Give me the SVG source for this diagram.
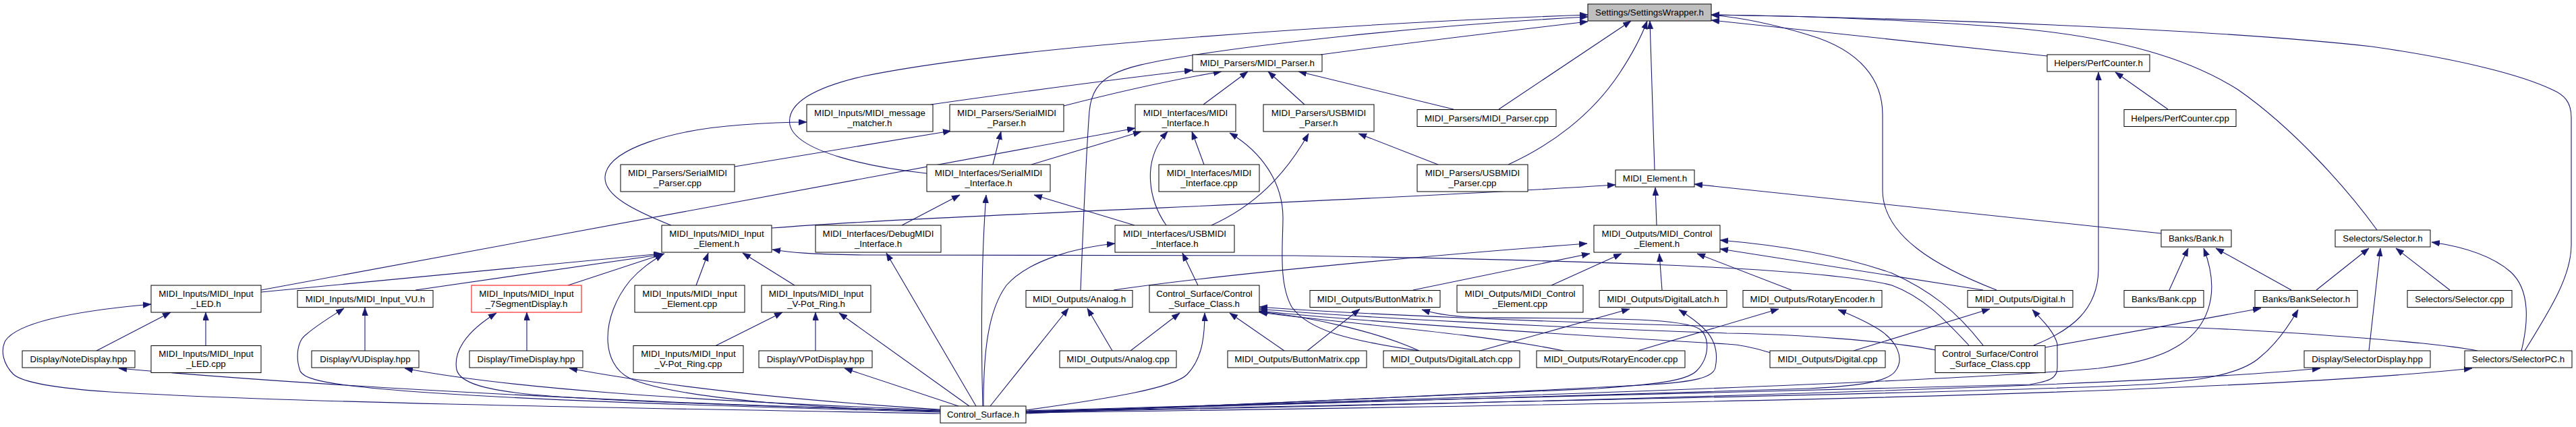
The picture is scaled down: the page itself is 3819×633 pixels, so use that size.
<svg xmlns="http://www.w3.org/2000/svg" width="3819" height="633" viewBox="0 0 3819 633">
<style>
.n rect{fill:#fff;stroke:#000;stroke-width:1}
.n text{font-family:"Liberation Sans",Arial,Helvetica,sans-serif;font-size:13.3px;text-anchor:middle;fill:#000}
.e path{fill:none;stroke:#191970;stroke-width:1.1;marker-end:url(#a)}
</style>
<defs>
<marker id="a" markerUnits="userSpaceOnUse" markerWidth="14" markerHeight="10" refX="12" refY="4.5" orient="auto">
<path d="M0,0 L12,4.5 L0,9 z" fill="#191970" stroke="#191970" stroke-width="0.5"/>
</marker>
</defs>
<rect width="3819" height="633" fill="#fff"/>
<g class="e" id="edges">
<path d="M1958,81 C2100,62 2250,44 2354,32"/>
<path d="M1374,257 C1290,248 1180,225 1171,185 C1165,150 1215,128 1280,113 C1500,68 2000,35 2354,22"/>
<path d="M1602,430 C1606,330 1610,230 1615,165 C1620,110 1660,100 1749,85 C1850,68 2100,38 2354,25"/>
<path d="M2222,162 L2418,31"/>
<path d="M2236,244 C2300,215 2360,170 2400,110 C2420,80 2435,50 2442,31"/>
<path d="M2453,252 L2446,31"/>
<path d="M3035,83 L2537,30"/>
<path d="M2960,430 C2870,395 2792,350 2791,283 L2791,170 C2791,120 2760,75 2682,52 C2630,36 2580,26 2537,22"/>
<path d="M3524,341 C3480,280 3400,190 3318,133 C3250,90 3150,55 2968,40 C2800,28 2650,23 2537,22"/>
<path d="M3743,520 C3780,460 3812,410 3812,363 L3812,174 C3812,150 3800,140 3784,133 C3740,112 3650,88 3516,69 C3300,45 2900,28 2537,22"/>
<path d="M1380,155 C1500,138 1650,118 1768,104"/>
<path d="M1577,157 C1650,138 1740,118 1811,106"/>
<path d="M1784,155 L1850,106"/>
<path d="M1934,155 L1880,106"/>
<path d="M2155,162 L1925,106"/>
<path d="M995,334 C940,312 895,290 897,262 C900,220 1000,192 1100,185 C1140,182 1170,181 1196,181"/>
<path d="M1089,247 L1410,194"/>
<path d="M1472,244 L1484,195"/>
<path d="M387,430 L1683,190"/>
<path d="M1529,244 L1692,195"/>
<path d="M1729,334 C1705,300 1690,240 1731,195"/>
<path d="M1785,244 L1767,195"/>
<path d="M2104,520 C2000,505 1940,490 1915,455 C1895,420 1902,360 1902,323 C1902,270 1870,225 1823,197"/>
<path d="M1337,334 L1423,289"/>
<path d="M1457,602 C1454,500 1455,380 1462,289"/>
<path d="M1682,334 L1533,289"/>
<path d="M1796,334 C1860,305 1905,260 1940,198"/>
<path d="M2132,244 L2014,198"/>
<path d="M1144,338 C1400,318 2000,300 2395,274"/>
<path d="M2456,334 L2454,278"/>
<path d="M3204,346 L2512,273"/>
<path d="M387,433 L981,376"/>
<path d="M616,430 L983,377"/>
<path d="M842,423 L985,376"/>
<path d="M1032,423 L1050,375"/>
<path d="M1178,423 L1101,375"/>
<path d="M1394,610 C1200,605 1000,590 934,561 C890,540 890,470 934,416 C950,398 965,388 983,377"/>
<path d="M2919,512 C2880,470 2850,440 2805,423 C2700,395 2300,385 1920,379 L1280,378 C1200,377 1170,374 1145,370"/>
<path d="M3015,512 C3070,490 3110,460 3111,400 L3111,107"/>
<path d="M3214,162 L3136,107"/>
<path d="M1651,430 C1800,408 2100,380 2353,361"/>
<path d="M2095,430 L2357,376"/>
<path d="M2300,423 L2404,376"/>
<path d="M2464,430 L2460,376"/>
<path d="M2656,430 L2516,376"/>
<path d="M2940,430 L2550,369"/>
<path d="M2940,512 C2900,460 2860,430 2805,405 C2720,375 2620,362 2550,356"/>
<path d="M1447,602 L1314,375"/>
<path d="M1458,602 C1458,520 1465,460 1492,423 C1525,385 1600,366 1653,361"/>
<path d="M1776,423 L1753,375"/>
<path d="M1468,602 L1584,457"/>
<path d="M1649,520 L1612,457"/>
<path d="M1676,520 L1749,464"/>
<path d="M1521,608 C1650,590 1740,575 1760,555 C1782,532 1786,500 1786,464"/>
<path d="M1904,520 L1823,464"/>
<path d="M3673,520 C3600,505 3300,485 3179,484 L2560,484 C2300,478 2000,465 1867,455"/>
<path d="M2870,519 C2800,505 2650,495 2560,494 C2300,485 2000,470 1867,458"/>
<path d="M2625,523 C2600,515 2580,511 2560,510 C2300,495 2000,475 1867,461"/>
<path d="M2104,520 C2050,495 1950,470 1867,462"/>
<path d="M2318,520 C2200,495 1980,478 1867,463"/>
<path d="M1938,520 L2016,458"/>
<path d="M1521,613 C1800,600 2200,585 2369,576 C2450,570 2500,565 2515,550 C2535,530 2535,500 2520,488 C2495,472 2400,472 2200,471 C2160,470 2130,466 2108,459"/>
<path d="M2194,520 L2416,458"/>
<path d="M1521,612 C1900,598 2300,578 2450,570 C2510,566 2540,560 2543,545 C2548,520 2540,500 2525,486 C2515,476 2500,466 2489,459"/>
<path d="M2428,520 L2637,458"/>
<path d="M1521,611 C2000,595 2500,580 2682,576 C2760,572 2800,565 2810,550 C2825,530 2810,505 2788,490 C2765,475 2740,465 2725,459"/>
<path d="M2748,520 L2950,458"/>
<path d="M1521,610 C2000,596 2700,575 3009,570 C3040,565 3050,560 3050,545 L3050,510 C3045,490 3025,472 3013,459"/>
<path d="M3216,430 L3244,368"/>
<path d="M1521,609 C2200,590 2900,565 3111,546 C3160,540 3200,530 3225,515 C3270,490 3295,440 3267,368"/>
<path d="M3397,430 L3285,368"/>
<path d="M3434,430 L3512,368"/>
<path d="M3512,520 L3529,368"/>
<path d="M3632,430 L3552,368"/>
<path d="M3738,520 C3748,480 3752,430 3722,403 C3690,375 3640,364 3605,359"/>
<path d="M3032,515 C3100,503 3250,476 3352,457"/>
<path d="M1521,610 C2300,595 3000,580 3179,570 C3260,565 3322,555 3350,530 C3375,510 3395,480 3407,459"/>
<path d="M1521,611 C2400,595 3200,570 3440,546"/>
<path d="M1521,612 C2400,600 3300,585 3665,546"/>
<path d="M143,520 L253,463"/>
<path d="M305,513 L305,463"/>
<path d="M1394,613 C1000,606 450,598 163,581 C90,576 35,568 20,555 C5,540 0,520 8,505 C25,480 100,462 224,451"/>
<path d="M541,520 L541,456"/>
<path d="M1394,611 C1100,603 700,592 530,573 C470,566 450,560 445,550 C438,530 440,505 455,495 C470,482 490,470 510,457"/>
<path d="M1394,609 C1000,600 500,575 176,546"/>
<path d="M1394,608 C1000,593 750,575 600,546"/>
<path d="M781,520 L781,463"/>
<path d="M1394,609 C1150,603 900,595 790,585 C720,578 682,568 677,548 C672,522 690,492 736,464"/>
<path d="M1394,607 C1200,595 1000,575 844,546"/>
<path d="M1060,513 L1160,463"/>
<path d="M1209,520 L1209,463"/>
<path d="M1437,602 L1244,464"/>
<path d="M1421,602 L1252,546"/>
</g>
<g class="n" id="n0"><rect x="2354" y="6" width="183" height="25" style="fill:#bfbfbf"/><text x="2445.5" y="23">Settings/SettingsWrapper.h</text></g>
<g class="n" id="n1"><rect x="1768" y="81" width="192" height="25"/><text x="1864" y="98">MIDI_Parsers/MIDI_Parser.h</text></g>
<g class="n" id="n2"><rect x="3035" y="81" width="152" height="25"/><text x="3111" y="98">Helpers/PerfCounter.h</text></g>
<g class="n" id="n3"><rect x="1196" y="155" width="187" height="40"/><text x="1289.5" y="171.5">MIDI_Inputs/MIDI_message</text><text x="1289.5" y="186.5">_matcher.h</text></g>
<g class="n" id="n4"><rect x="1408" y="155" width="169" height="40"/><text x="1492.5" y="171.5">MIDI_Parsers/SerialMIDI</text><text x="1492.5" y="186.5">_Parser.h</text></g>
<g class="n" id="n5"><rect x="1683" y="155" width="149" height="40"/><text x="1757.5" y="171.5">MIDI_Interfaces/MIDI</text><text x="1757.5" y="186.5">_Interface.h</text></g>
<g class="n" id="n6"><rect x="1873" y="155" width="164" height="40"/><text x="1955" y="171.5">MIDI_Parsers/USBMIDI</text><text x="1955" y="186.5">_Parser.h</text></g>
<g class="n" id="n7"><rect x="2101" y="162.5" width="206" height="25"/><text x="2204" y="179.5">MIDI_Parsers/MIDI_Parser.cpp</text></g>
<g class="n" id="n8"><rect x="3149" y="162.5" width="166" height="25"/><text x="3232" y="179.5">Helpers/PerfCounter.cpp</text></g>
<g class="n" id="n9"><rect x="920" y="244" width="169" height="40"/><text x="1004.5" y="260.5">MIDI_Parsers/SerialMIDI</text><text x="1004.5" y="275.5">_Parser.cpp</text></g>
<g class="n" id="n10"><rect x="1374" y="244" width="183" height="40"/><text x="1465.5" y="260.5">MIDI_Interfaces/SerialMIDI</text><text x="1465.5" y="275.5">_Interface.h</text></g>
<g class="n" id="n11"><rect x="1718" y="244" width="149" height="40"/><text x="1792.5" y="260.5">MIDI_Interfaces/MIDI</text><text x="1792.5" y="275.5">_Interface.cpp</text></g>
<g class="n" id="n12"><rect x="2101" y="244" width="164" height="40"/><text x="2183" y="260.5">MIDI_Parsers/USBMIDI</text><text x="2183" y="275.5">_Parser.cpp</text></g>
<g class="n" id="n13"><rect x="2395" y="252" width="117" height="25"/><text x="2453.5" y="269">MIDI_Element.h</text></g>
<g class="n" id="n14"><rect x="981" y="334" width="163" height="40"/><text x="1062.5" y="350.5">MIDI_Inputs/MIDI_Input</text><text x="1062.5" y="365.5">_Element.h</text></g>
<g class="n" id="n15"><rect x="1209" y="334" width="186" height="40"/><text x="1302" y="350.5">MIDI_Interfaces/DebugMIDI</text><text x="1302" y="365.5">_Interface.h</text></g>
<g class="n" id="n16"><rect x="1653" y="334" width="177" height="40"/><text x="1741.5" y="350.5">MIDI_Interfaces/USBMIDI</text><text x="1741.5" y="365.5">_Interface.h</text></g>
<g class="n" id="n17"><rect x="2363" y="334" width="187" height="40"/><text x="2456.5" y="350.5">MIDI_Outputs/MIDI_Control</text><text x="2456.5" y="365.5">_Element.h</text></g>
<g class="n" id="n18"><rect x="3204" y="341" width="104" height="25"/><text x="3256" y="358">Banks/Bank.h</text></g>
<g class="n" id="n19"><rect x="3462" y="341" width="141" height="25"/><text x="3532.5" y="358">Selectors/Selector.h</text></g>
<g class="n" id="n20"><rect x="224" y="423" width="163" height="40"/><text x="305.5" y="439.5">MIDI_Inputs/MIDI_Input</text><text x="305.5" y="454.5">_LED.h</text></g>
<g class="n" id="n21"><rect x="441" y="430.5" width="201" height="25"/><text x="541.5" y="447.5">MIDI_Inputs/MIDI_Input_VU.h</text></g>
<g class="n" id="n22"><rect x="699" y="423" width="163" height="40" style="stroke:#ff0000"/><text x="780.5" y="439.5">MIDI_Inputs/MIDI_Input</text><text x="780.5" y="454.5">_7SegmentDisplay.h</text></g>
<g class="n" id="n23"><rect x="941" y="423" width="163" height="40"/><text x="1022.5" y="439.5">MIDI_Inputs/MIDI_Input</text><text x="1022.5" y="454.5">_Element.cpp</text></g>
<g class="n" id="n24"><rect x="1129" y="423" width="162" height="40"/><text x="1210" y="439.5">MIDI_Inputs/MIDI_Input</text><text x="1210" y="454.5">_V-Pot_Ring.h</text></g>
<g class="n" id="n25"><rect x="1521" y="430.5" width="158" height="25"/><text x="1600" y="447.5">MIDI_Outputs/Analog.h</text></g>
<g class="n" id="n26"><rect x="1704" y="423" width="163" height="40"/><text x="1785.5" y="439.5">Control_Surface/Control</text><text x="1785.5" y="454.5">_Surface_Class.h</text></g>
<g class="n" id="n27"><rect x="1942" y="430.5" width="193" height="25"/><text x="2038.5" y="447.5">MIDI_Outputs/ButtonMatrix.h</text></g>
<g class="n" id="n28"><rect x="2160" y="423" width="187" height="40"/><text x="2253.5" y="439.5">MIDI_Outputs/MIDI_Control</text><text x="2253.5" y="454.5">_Element.cpp</text></g>
<g class="n" id="n29"><rect x="2371" y="430.5" width="189" height="25"/><text x="2465.5" y="447.5">MIDI_Outputs/DigitalLatch.h</text></g>
<g class="n" id="n30"><rect x="2584" y="430.5" width="206" height="25"/><text x="2687" y="447.5">MIDI_Outputs/RotaryEncoder.h</text></g>
<g class="n" id="n31"><rect x="2917" y="430.5" width="156" height="25"/><text x="2995" y="447.5">MIDI_Outputs/Digital.h</text></g>
<g class="n" id="n32"><rect x="3149" y="430.5" width="118" height="25"/><text x="3208" y="447.5">Banks/Bank.cpp</text></g>
<g class="n" id="n33"><rect x="3343" y="430.5" width="152" height="25"/><text x="3419" y="447.5">Banks/BankSelector.h</text></g>
<g class="n" id="n34"><rect x="3569" y="430.5" width="155" height="25"/><text x="3646.5" y="447.5">Selectors/Selector.cpp</text></g>
<g class="n" id="n35"><rect x="33" y="520" width="167" height="25"/><text x="116.5" y="537">Display/NoteDisplay.hpp</text></g>
<g class="n" id="n36"><rect x="224" y="512.5" width="163" height="40"/><text x="305.5" y="529">MIDI_Inputs/MIDI_Input</text><text x="305.5" y="544">_LED.cpp</text></g>
<g class="n" id="n37"><rect x="462" y="520" width="159" height="25"/><text x="541.5" y="537">Display/VUDisplay.hpp</text></g>
<g class="n" id="n38"><rect x="696" y="520" width="168" height="25"/><text x="780" y="537">Display/TimeDisplay.hpp</text></g>
<g class="n" id="n39"><rect x="939" y="512.5" width="163" height="40"/><text x="1020.5" y="529">MIDI_Inputs/MIDI_Input</text><text x="1020.5" y="544">_V-Pot_Ring.cpp</text></g>
<g class="n" id="n40"><rect x="1125" y="520" width="168" height="25"/><text x="1209" y="537">Display/VPotDisplay.hpp</text></g>
<g class="n" id="n41"><rect x="1571" y="520" width="173" height="25"/><text x="1657.5" y="537">MIDI_Outputs/Analog.cpp</text></g>
<g class="n" id="n42"><rect x="1820" y="520" width="206" height="25"/><text x="1923" y="537">MIDI_Outputs/ButtonMatrix.cpp</text></g>
<g class="n" id="n43"><rect x="2051" y="520" width="202" height="25"/><text x="2152" y="537">MIDI_Outputs/DigitalLatch.cpp</text></g>
<g class="n" id="n44"><rect x="2278" y="520" width="220" height="25"/><text x="2388" y="537">MIDI_Outputs/RotaryEncoder.cpp</text></g>
<g class="n" id="n45"><rect x="2624" y="520" width="171" height="25"/><text x="2709.5" y="537">MIDI_Outputs/Digital.cpp</text></g>
<g class="n" id="n46"><rect x="2869" y="512.5" width="163" height="40"/><text x="2950.5" y="529">Control_Surface/Control</text><text x="2950.5" y="544">_Surface_Class.cpp</text></g>
<g class="n" id="n47"><rect x="3416" y="520" width="187" height="25"/><text x="3509.5" y="537">Display/SelectorDisplay.hpp</text></g>
<g class="n" id="n48"><rect x="3654" y="520" width="159" height="25"/><text x="3733.5" y="537">Selectors/SelectorPC.h</text></g>
<g class="n" id="n49"><rect x="1394" y="602" width="127" height="25"/><text x="1457.5" y="619">Control_Surface.h</text></g>
</svg>
